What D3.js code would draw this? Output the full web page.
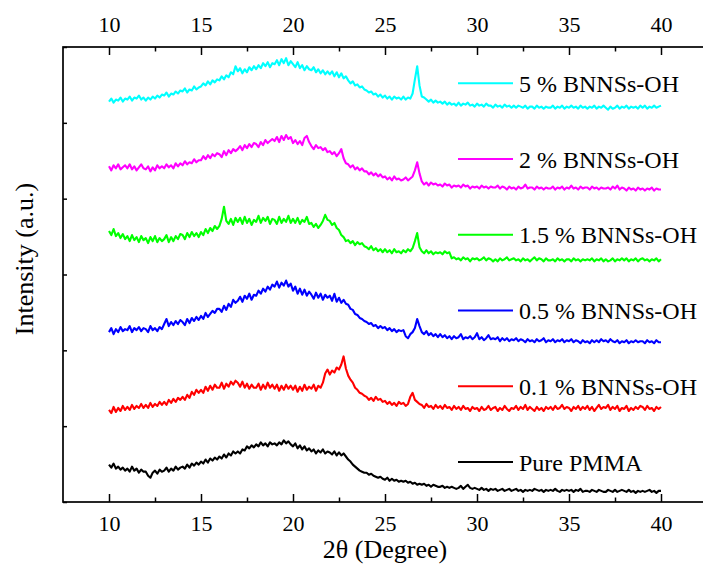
<!DOCTYPE html>
<html><head><meta charset="utf-8">
<script src="https://cdn.jsdelivr.net/npm/d3@7/dist/d3.min.js"></script>
<style>body{margin:0;background:#fff}svg{display:block}svg text{font-family:"Liberation Serif","Times New Roman","DejaVu Serif",serif}</style>
</head><body><svg id="c" width="703" height="570"></svg>
<script>
const twoTheta = [
10,10.125,10.25,10.375,10.5,10.625,10.75,10.875, 11,11.125,11.25,11.375,11.5,11.625,11.75,11.875,
12,12.125,12.25,12.375,12.5,12.625,12.75,12.875, 13,13.125,13.25,13.375,13.5,13.625,13.75,13.875,
14,14.125,14.25,14.375,14.5,14.625,14.75,14.875, 15,15.125,15.25,15.375,15.5,15.625,15.75,15.875,
16,16.125,16.25,16.375,16.5,16.625,16.75,16.875, 17,17.125,17.25,17.375,17.5,17.625,17.75,17.875,
18,18.125,18.25,18.375,18.5,18.625,18.75,18.875, 19,19.125,19.25,19.375,19.5,19.625,19.75,19.875,
20,20.125,20.25,20.375,20.5,20.625,20.75,20.875, 21,21.125,21.25,21.375,21.5,21.625,21.75,21.875,
22,22.125,22.25,22.375,22.5,22.625,22.75,22.875, 23,23.125,23.25,23.375,23.5,23.625,23.75,23.875,
24,24.125,24.25,24.375,24.5,24.625,24.75,24.875, 25,25.125,25.25,25.375,25.5,25.625,25.75,25.875,
26,26.125,26.25,26.375,26.5,26.625,26.75,26.875, 27,27.125,27.25,27.375,27.5,27.625,27.75,27.875,
28,28.125,28.25,28.375,28.5,28.625,28.75,28.875, 29,29.125,29.25,29.375,29.5,29.625,29.75,29.875,
30,30.125,30.25,30.375,30.5,30.625,30.75,30.875, 31,31.125,31.25,31.375,31.5,31.625,31.75,31.875,
32,32.125,32.25,32.375,32.5,32.625,32.75,32.875, 33,33.125,33.25,33.375,33.5,33.625,33.75,33.875,
34,34.125,34.25,34.375,34.5,34.625,34.75,34.875, 35,35.125,35.25,35.375,35.5,35.625,35.75,35.875,
36,36.125,36.25,36.375,36.5,36.625,36.75,36.875, 37,37.125,37.25,37.375,37.5,37.625,37.75,37.875,
38,38.125,38.25,38.375,38.5,38.625,38.75,38.875, 39,39.125,39.25,39.375,39.5,39.625,39.75,39.875,
40];
const xTicks = [10,15,20,25,30,35,40];
const xMinorTicks = [12.5,17.5,22.5,27.5,32.5,37.5];
const yTicks = [0,75,150,225,300,375,450];
const seriesNames = ["5 % BNNSs-OH","2 % BNNSs-OH","1.5 % BNNSs-OH","0.5 % BNNSs-OH","0.1 % BNNSs-OH","Pure PMMA"];
const seriesColors = ["#00ffff","#ff00ff","#00ff00","#0000ff","#ff0000","#000000"];
const bnns5 = [
396,399,395,398,397,400,396,399, 398,401,397,400,399,402,398,400, 397,400,398,401,399,402,400,403,
402,405,401,404,403,406,404,407, 406,409,405,408,407,411,408,410, 411,414,412,416,413,417,415,418,
417,421,418,422,420,425,423,431, 426,429,424,428,425,430,427,431, 428,432,429,434,431,435,430,434,
433,437,432,438,434,439,432,436, 433,430,435,429,432,427,431,428, 427,430,425,428,424,427,423,426,
423,426,421,425,420,424,419,421, 417,414,416,412,413,410,411,408, 407,405,406,403,404,401,403,400,
402,399,401,398,401,399,400,398, 401,398,400,399,404,418,431,412, 401,400,398,396,398,395,397,395,
396,394,396,393,395,393,394,392, 395,392,394,393,395,392,393,391, 394,392,393,391,394,392,392,390,
393,391,392,390,393,391,392,390, 392,390,392,391,390,392,389,391, 391,389,392,390,391,389,391,390,
390,392,389,391,390,392,389,391, 390,392,390,391,389,392,390,391, 389,391,390,392,389,391,390,392,
390,388,391,389,390,392,389,391, 390,392,389,391,390,391,389,392, 390,392,389,391,390,392,390,391,
392];
const bnns2 = [
332,328,333,330,334,329,331,333, 330,334,329,332,328,331,334,330, 329,332,327,331,328,333,330,332,
330,334,331,333,330,335,332,335, 333,337,334,336,335,339,336,338, 338,342,339,343,340,344,342,345,
344,341,347,343,348,345,349,347, 349,352,348,353,350,354,351,355, 354,351,356,353,358,355,357,359,
357,361,356,362,358,363,359,361, 355,358,354,357,353,360,362,356, 352,349,353,350,351,348,350,346,
347,344,346,342,345,349,340,335, 334,331,333,329,331,328,330,327, 327,324,326,323,325,322,324,321,
322,319,321,318,322,319,320,318, 319,321,318,320,322,328,336,325, 317,314,316,313,316,314,315,313,
314,312,315,313,314,311,313,312, 313,311,314,312,313,310,312,311, 312,310,313,311,312,310,312,311,
311,313,310,312,311,309,312,310, 311,309,312,310,311,314,310,311, 311,309,312,310,311,309,311,310,
310,312,309,311,310,312,309,311, 310,313,310,311,309,312,310,311, 311,309,312,310,311,309,311,310,
310,311,309,312,310,313,309,311, 310,308,311,309,310,308,311,309, 310,308,310,309,311,308,310,309,
309];
const bnns15 = [
268,264,270,263,266,261,265,260, 263,258,264,259,262,257,263,259, 261,256,262,258,263,257,261,258,
260,264,257,262,258,263,260,265, 264,260,266,262,267,263,266,262, 267,264,270,266,271,268,273,270,
273,280,292,278,275,280,274,281, 277,281,275,282,276,280,274,279, 277,283,276,281,278,282,275,280,
279,275,282,276,280,277,283,276, 280,276,281,275,279,277,282,275, 276,272,275,271,274,278,284,279,
278,274,276,271,269,264,262,258, 259,256,258,254,257,255,256,253, 252,250,253,249,251,248,250,247,
250,247,249,246,250,247,248,246, 249,247,250,248,251,258,266,252, 248,246,249,246,248,245,247,246,
247,245,248,246,247,241,242,240, 241,239,242,240,241,238,241,240, 241,239,240,242,239,241,240,238,
240,238,241,239,240,242,239,240, 241,239,240,238,241,239,240,238, 240,242,239,241,240,238,241,239,
239,240,238,241,239,240,238,240, 240,238,241,239,240,238,240,239, 240,239,241,238,240,239,241,238,
240,238,239,241,238,240,239,241, 239,241,238,240,239,241,238,240, 241,239,240,238,240,239,241,238,
240];
const bnns05 = [
168,172,166,171,168,173,169,171, 170,174,168,172,170,173,169,172, 171,168,174,170,172,169,173,171,
176,181,174,178,175,179,176,180, 178,175,181,177,182,179,183,180, 184,181,187,183,186,189,187,191,
191,188,194,190,196,193,200,197, 199,203,198,204,201,206,200,205, 204,209,206,211,208,213,210,215,
213,218,212,217,214,219,213,216, 209,213,206,211,205,210,204,208, 205,201,207,202,206,200,205,202,
204,199,206,198,202,197,200,196, 195,191,190,186,185,182,181,179, 178,176,177,174,175,172,174,172,
173,170,172,169,171,168,170,169, 170,164,162,166,168,172,181,174, 168,166,169,165,167,164,166,163,
166,163,165,162,164,161,164,162, 163,166,161,163,162,164,161,163, 167,161,163,160,162,165,161,162,
161,163,159,162,160,162,159,161, 160,162,159,161,160,158,161,159, 160,158,161,159,160,162,158,160,
159,161,158,160,159,161,158,160, 159,161,158,160,159,157,160,158, 159,157,160,158,160,158,161,159,
160,158,161,159,158,160,157,159, 158,160,157,159,158,160,158,159, 159,157,160,158,159,157,160,158,
158];
const bnns01 = [
91,88,94,89,93,90,95,91, 94,91,96,92,95,93,97,93, 96,93,98,94,97,95,99,96,
99,96,101,98,102,99,103,101, 104,101,106,103,109,106,111,108, 111,108,114,110,115,111,116,113,
113,118,112,117,114,119,116,120, 118,114,119,113,117,112,116,113, 113,117,111,116,112,118,113,116,
112,116,110,115,111,116,112,115, 111,115,109,114,110,116,111,114, 112,116,110,115,113,118,127,131,
126,130,128,133,131,136,144,132, 125,121,118,113,111,108,107,105, 104,101,103,100,104,101,102,99,
100,97,99,96,98,95,99,97, 98,95,97,104,108,101,99,97, 96,93,97,94,95,92,96,93,
95,92,96,93,94,91,95,92, 94,91,95,92,93,90,94,92, 93,90,94,91,92,95,91,93,
94,90,93,91,95,92,90,93, 92,95,91,94,92,96,91,94, 92,90,94,91,93,90,94,92,
94,91,95,92,93,96,92,94, 93,90,94,92,95,91,94,92, 95,91,94,90,93,96,92,94,
93,96,91,94,92,95,90,93, 92,95,90,93,91,94,92,95, 94,91,95,92,93,90,94,92,
94];
const pmma = [
37,34,38,33,35,32,34,31, 33,30,35,31,33,29,32,30, 30,26,24,29,31,28,32,30,
31,34,30,33,31,35,32,34, 35,33,37,34,38,36,39,37, 40,38,42,39,43,41,44,42,
45,43,47,44,48,46,50,48, 50,48,52,51,55,53,56,54, 57,55,59,56,58,55,59,57,
58,56,59,57,61,58,60,57, 55,58,53,56,52,55,51,53, 50,52,48,51,49,52,48,50,
49,47,50,46,49,46,48,45, 42,40,37,35,33,31,30,29, 29,27,28,26,25,24,25,23,
22,24,21,23,21,22,20,21, 20,21,19,20,18,19,17,18, 17,18,16,17,15,17,16,15,
15,16,14,15,14,15,14,13, 14,16,13,15,17,14,13,14, 13,12,14,12,13,11,13,12,
13,11,12,13,11,12,13,11, 12,13,11,12,10,12,11,12, 11,13,12,11,12,10,12,11,
12,11,13,11,10,12,11,12, 11,12,10,12,11,13,10,11, 11,10,12,11,10,12,11,10,
10,12,11,10,12,10,11,12, 11,10,12,10,11,9,11,10, 11,10,11,12,10,11,9,11,
11];
const seriesValues = [bnns5,bnns2,bnns15,bnns05,bnns01,pmma];

const svg = d3.select("#c");
const mLeft = 63, mRight = 707, mTop = 47, mBottom = 502;
const x = d3.scaleLinear().domain([7.5,42.5]).range([mLeft,mRight]);
const y = d3.scaleLinear().domain([0,450]).range([mBottom,mTop]);

const line = d3.line().x((d,i)=>x(twoTheta[i])).y(d=>y(d));
seriesValues.forEach((vals,k)=>{
  svg.append("path").datum(vals).attr("d",line)
    .attr("fill","none").attr("stroke",seriesColors[k])
    .attr("stroke-width",2.1).attr("stroke-linejoin","round");
});

function styleAxis(g, size){
  g.attr("font-family",null);
  g.select(".domain").remove();
  g.selectAll("line").attr("stroke","#000").attr("stroke-width",1.5);
  g.selectAll("text").style("font-size",size+"px").attr("fill","#000");
}
const gb = svg.append("g").attr("transform",`translate(0,${mBottom})`)
  .call(d3.axisBottom(x).tickValues(xTicks).tickSize(-8).tickPadding(13).tickFormat(d3.format("d")));
styleAxis(gb,22);
const gbm = svg.append("g").attr("transform",`translate(0,${mBottom})`)
  .call(d3.axisBottom(x).tickValues(xMinorTicks).tickSize(-4.5).tickFormat(""));
styleAxis(gbm,22);
const gt = svg.append("g").attr("transform",`translate(0,${mTop})`)
  .call(d3.axisTop(x).tickValues(xTicks).tickSize(-8).tickPadding(15).tickFormat(d3.format("d")));
styleAxis(gt,22);
const gtm = svg.append("g").attr("transform",`translate(0,${mTop})`)
  .call(d3.axisTop(x).tickValues(xMinorTicks).tickSize(-4.5).tickFormat(""));
styleAxis(gtm,22);
const gl = svg.append("g").attr("transform",`translate(${mLeft},0)`)
  .call(d3.axisLeft(y).tickValues(yTicks).tickSize(-4).tickFormat(""));
styleAxis(gl,22);
svg.append("rect").attr("x",mLeft).attr("y",mTop).attr("width",mRight-mLeft).attr("height",mBottom-mTop)
  .attr("fill","none").attr("stroke","#000").attr("stroke-width",1.7);

const legTop = 83.3, legStep = 75.75;
seriesNames.forEach((name,k)=>{
  const ly = legTop + k*legStep;
  svg.append("line").attr("x1",458).attr("x2",513).attr("y1",ly).attr("y2",ly)
    .attr("stroke",seriesColors[k]).attr("stroke-width",2);
  svg.append("text").attr("x",519).attr("y",ly+8.5).text(name)
    .style("font-size","24px").attr("fill","#000");
});

svg.append("text").attr("x",(x(10)+x(40))/2).attr("y",558).attr("text-anchor","middle")
  .style("font-size","26px").text("2θ (Degree)");
svg.append("text").attr("transform",`translate(33,259) rotate(-90)`).attr("text-anchor","middle")
  .style("font-size","26px").text("Intensity (a.u.)");
</script></body></html>
